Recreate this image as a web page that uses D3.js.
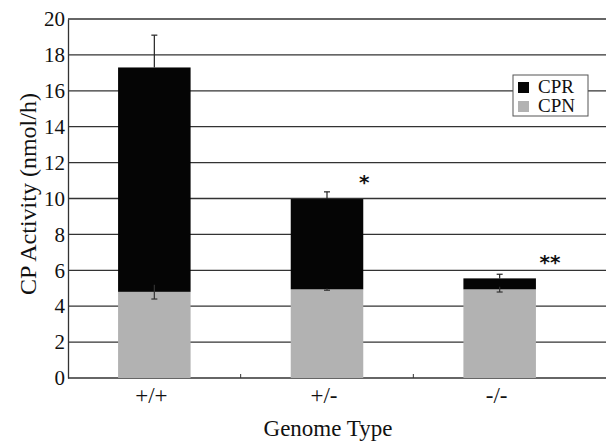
<!DOCTYPE html>
<html>
<head>
<meta charset="utf-8">
<script src="https://cdn.jsdelivr.net/npm/d3@7"></script>
<style>
  body { margin: 0; background: #fff; }
  svg { display: block; }
  text { font-family: "Liberation Serif", "DejaVu Serif", serif; fill: #111; }
</style>
</head>
<body>
<div id="chart"></div>
<script>
// DATA
const genomes = ["+/+", "+/-", "-/-"];
const cpn = [4.8, 4.94, 4.94];
const total = [17.3, 9.97, 5.55];
const totalErr = [1.8, 0.4, 0.23];
const cpnErr = [0.4, 0.05, 0.15];
const stars = ["", "*", "**"];
const yTicks = [0, 2, 4, 6, 8, 10, 12, 14, 16, 18, 20];

// CONSTANTS
const w = 606;
const h = 441;
const padLeft = 68;
const padTop = 19;
const plotBottom = 378;
const bandRight = 586;
const black = "#050505";
const grey = "#b2b2b2";
const serif = "'Liberation Serif', 'DejaVu Serif', serif";

const svg = d3.select("#chart").append("svg")
    .attr("width", w)
    .attr("height", h);

// SCALES
const xScale = d3.scaleBand()
    .domain(genomes)
    .range([padLeft, bandRight])
    .paddingInner(0.58)
    .paddingOuter(0.29);
const yScale = d3.scaleLinear()
    .domain([0, 20])
    .range([plotBottom, padTop]);

// GRID
svg.append("g")
    .selectAll("line")
    .data(yTicks)
    .enter()
    .append("line")
    .attr("x1", padLeft)
    .attr("x2", w)
    .attr("y1", d => yScale(d))
    .attr("y2", d => yScale(d))
    .attr("stroke", "#333")
    .attr("stroke-width", 1.3);

// Y AXIS
const yAxis = d3.axisLeft(yScale)
    .tickValues(yTicks)
    .tickSize(0)
    .tickPadding(3);
const gy = svg.append("g")
    .attr("transform", `translate(${padLeft}, 0)`)
    .call(yAxis)
    .attr("font-family", null);
gy.select(".domain").attr("stroke", "#333").attr("stroke-width", 1.3);
gy.selectAll("text")
    .style("font-family", serif)
    .style("font-size", "21px")
    .attr("fill", "#111");

// X AXIS ticks between bands
const step = xScale.step();
const tickXs = genomes.slice(1).map(g => xScale(g) - (step - xScale.bandwidth()) / 2);
svg.append("g")
    .selectAll("line")
    .data(tickXs)
    .enter()
    .append("line")
    .attr("x1", d => d)
    .attr("x2", d => d)
    .attr("y1", plotBottom)
    .attr("y2", plotBottom - 4)
    .attr("stroke", "#333");

// BARS
const bars = svg.append("g");
bars.selectAll("rect.cpn")
    .data(genomes)
    .enter()
    .append("rect")
    .attr("class", "cpn")
    .attr("x", d => xScale(d))
    .attr("width", xScale.bandwidth())
    .attr("y", (d, i) => yScale(cpn[i]))
    .attr("height", (d, i) => yScale(0) - yScale(cpn[i]))
    .attr("fill", grey);
bars.selectAll("rect.cpr")
    .data(genomes)
    .enter()
    .append("rect")
    .attr("class", "cpr")
    .attr("x", d => xScale(d))
    .attr("width", xScale.bandwidth())
    .attr("y", (d, i) => yScale(total[i]))
    .attr("height", (d, i) => yScale(cpn[i]) - yScale(total[i]))
    .attr("fill", black);

// ERROR BARS
const errs = svg.append("g").attr("stroke", "#222").attr("stroke-width", 1.2);
genomes.forEach((g, i) => {
    const cx = xScale(g) + xScale.bandwidth() / 2;
    // total (CPR) error, upward
    errs.append("line")
        .attr("x1", cx).attr("x2", cx)
        .attr("y1", yScale(total[i])).attr("y2", yScale(total[i] + totalErr[i]));
    errs.append("line")
        .attr("x1", cx - 3).attr("x2", cx + 3)
        .attr("y1", yScale(total[i] + totalErr[i])).attr("y2", yScale(total[i] + totalErr[i]));
    // CPN error
    errs.append("line")
        .attr("x1", cx).attr("x2", cx)
        .attr("y1", yScale(cpn[i] + cpnErr[i])).attr("y2", yScale(cpn[i] - cpnErr[i]))
        .attr("stroke", "#333");
    errs.append("line")
        .attr("x1", cx - 3).attr("x2", cx + 3)
        .attr("y1", yScale(cpn[i] - cpnErr[i])).attr("y2", yScale(cpn[i] - cpnErr[i]))
        .attr("stroke", "#333");
});

// SIGNIFICANCE STARS
svg.append("g")
    .selectAll("text")
    .data(genomes)
    .enter()
    .append("text")
    .attr("x", (d, i) => xScale(d) + xScale.bandwidth() + (i === 2 ? 14 : 1))
    .attr("y", (d, i) => yScale(total[i] + totalErr[i]) + (i === 2 ? -5 : -3))
    .attr("text-anchor", "middle")
    .attr("font-weight", "bold")
    .style("font-family", "'DejaVu Sans', sans-serif")
    .style("font-size", "20px")
    .text((d, i) => stars[i]);

// CATEGORY LABELS
svg.append("g")
    .selectAll("text")
    .data(genomes)
    .enter()
    .append("text")
    .attr("x", d => xScale(d) + xScale.bandwidth() / 2 - 3)
    .attr("y", 403)
    .attr("text-anchor", "middle")
    .style("font-size", "23px")
    .text(d => d);

// AXIS TITLES
svg.append("text")
    .attr("x", 328)
    .attr("y", 436)
    .attr("text-anchor", "middle")
    .style("font-size", "23px")
    .text("Genome Type");
svg.append("text")
    .attr("transform", `translate(36, 194) rotate(-90)`)
    .attr("text-anchor", "middle")
    .style("font-size", "24px")
    .text("CP Activity (nmol/h)");

// LEGEND
const legendItems = [{ name: "CPR", color: black }, { name: "CPN", color: grey }];
const legend = svg.append("g").attr("transform", "translate(513, 75)");
legend.append("rect")
    .attr("width", 75)
    .attr("height", 41)
    .attr("fill", "#fff")
    .attr("stroke", "#555");
legend.selectAll("rect.key")
    .data(legendItems)
    .enter()
    .append("rect")
    .attr("class", "key")
    .attr("x", 5)
    .attr("y", (d, i) => 7 + i * 19)
    .attr("width", 11)
    .attr("height", 11)
    .attr("fill", d => d.color);
legend.selectAll("text")
    .data(legendItems)
    .enter()
    .append("text")
    .attr("x", 25)
    .attr("y", (d, i) => 18 + i * 19)
    .style("font-size", "19px")
    .text(d => d.name);
</script>
</body>
</html>
